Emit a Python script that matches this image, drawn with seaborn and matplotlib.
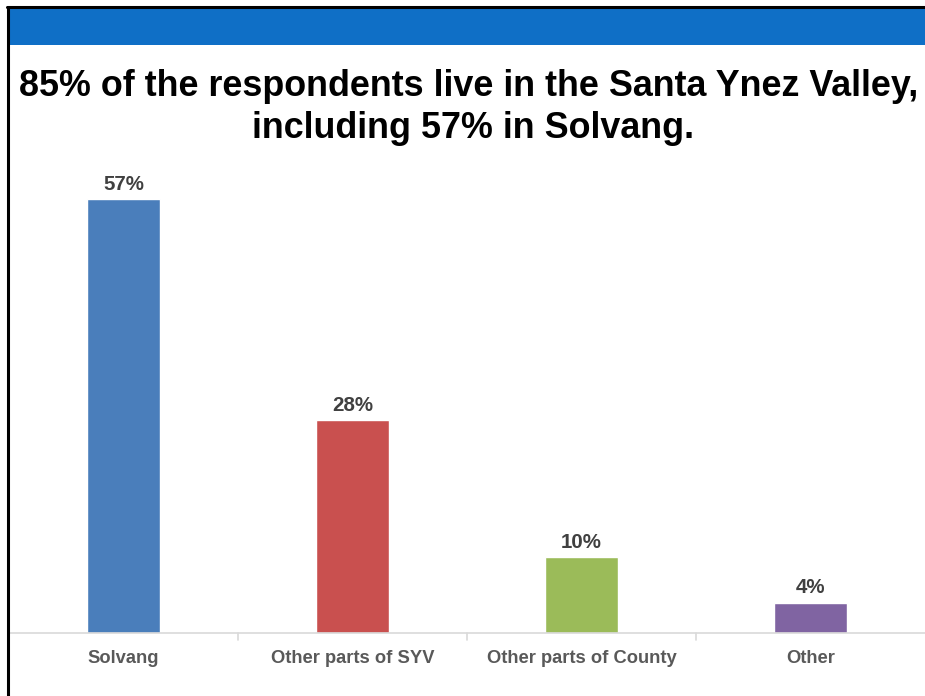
import matplotlib
matplotlib.use("Agg")
import matplotlib.pyplot as plt
from matplotlib.patches import Rectangle
from matplotlib.lines import Line2D
import seaborn as sns
import pandas as pd

# Where respondents live (percent of respondents)
categories = ["Solvang", "Other parts of SYV", "Other parts of County", "Other"]
values = [57, 28, 10, 4]
bar_colors = ["#4A7EBB", "#C9504F", "#9BBB59", "#8064A2"]
title_lines = ["85% of the respondents live in the Santa Ynez Valley,",
               "including 57% in Solvang."]

df = pd.DataFrame({"area": categories, "pct": values})

sns.set_theme(style="white")
plt.rcParams["font.family"] = ["Liberation Sans", "DejaVu Sans"]

W, H = 925, 696
fig = plt.figure(figsize=(W / 100, H / 100), dpi=100)

# slide frame: black rule on top/left, blue header band
fig.add_artist(Rectangle((9 / W, 1 - 45 / H), 1 - 9 / W, 37 / H,
                         transform=fig.transFigure, color="#0F6FC6", lw=0))
fig.add_artist(Line2D([7 / W, 1], [1 - 7 / H, 1 - 7 / H],
                      transform=fig.transFigure, color="black", lw=2.2))
fig.add_artist(Line2D([8 / W, 8 / W], [0, 1 - 7 / H],
                      transform=fig.transFigure, color="black", lw=2.2))

# title
fig.text(469 / W, 1 - 86 / H, title_lines[0], ha="center", va="center",
         fontsize=25.8, fontweight="bold", color="black")
fig.text(473 / W, 1 - 129 / H, title_lines[1], ha="center", va="center",
         fontsize=25.8, fontweight="bold", color="black")

ax_top, ax_bot = 170, 633
ax = fig.add_axes([9 / W, 1 - ax_bot / H, 1 - 9 / W, (ax_bot - ax_top) / H])
sns.barplot(data=df, x="area", y="pct", hue="area", palette=bar_colors,
            width=0.315, legend=False, ax=ax, saturation=1)

ax.set_xlim(-0.5, 3.5)
ax.set_ylim(0, (ax_bot - ax_top) / (434 / 57))
ax.set_xlabel("")
ax.set_ylabel("")
ax.set_yticks([])
for side in ("top", "right", "left"):
    ax.spines[side].set_visible(False)
ax.spines["bottom"].set_color("#D9D9D9")
ax.spines["bottom"].set_linewidth(1.2)

ax.set_xticks(range(len(categories)))
ax.set_xticklabels(categories, fontsize=13.2, fontweight="bold", color="#595959")
ax.tick_params(axis="x", length=0, pad=12.5)
# category separator ticks
for b in [0.5, 1.5, 2.5]:
    ax.plot([b, b], [0, -0.9], color="#D9D9D9", lw=1.2, clip_on=False)

for i, v in enumerate(values):
    ax.annotate(f"{v}%", (i, v), xytext=(0, 10.5), textcoords="offset points",
                ha="center", va="center", fontsize=14.8, fontweight="bold",
                color="#404040")

fig.savefig("out.png", dpi=100)
